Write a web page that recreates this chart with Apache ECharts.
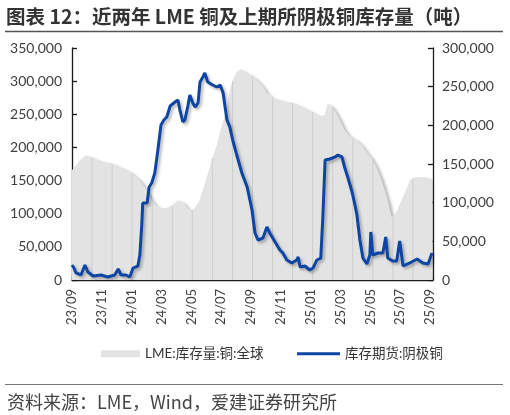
<!DOCTYPE html>
<html><head><meta charset="utf-8">
<script src="https://cdn.jsdelivr.net/npm/echarts@6/dist/echarts.min.js"></script>
<style>html,body{margin:0;padding:0;background:#fff}#c{width:510px;height:415px}</style>
</head><body><div id="c"></div>
<script>
const tickLabels = ['23/09','23/11','24/01','24/03','24/05','24/07','24/09','24/11','25/01','25/03','25/05','25/07','25/09'];
const leftTicks = [0, 350000, 50000];
const rightTicks = [0, 300000, 50000];
const lmeName = 'LME:库存量:铜:全球';
const shfeName = '库存期货:阴极铜';
const lmeDates = ['2023-09-01','2023-09-17','2023-09-29','2023-10-11','2023-10-30','2023-11-19','2023-12-09','2023-12-30','2024-01-18','2024-01-30','2024-02-11','2024-02-19','2024-02-27','2024-03-10','2024-03-24','2024-04-04','2024-04-14','2024-04-22','2024-05-02','2024-05-10','2024-05-18','2024-05-26','2024-06-02','2024-06-08','2024-06-14','2024-06-22','2024-06-28','2024-07-06','2024-07-13','2024-07-19','2024-07-25','2024-08-02','2024-08-11','2024-08-19','2024-08-30','2024-09-09','2024-09-19','2024-09-27','2024-10-03','2024-10-15','2024-11-05','2024-11-26','2024-12-16','2025-01-05','2025-01-20','2025-01-30','2025-02-05','2025-02-13','2025-02-20','2025-02-28','2025-03-10','2025-03-20','2025-04-04','2025-04-14','2025-04-24','2025-05-04','2025-05-14','2025-05-23','2025-05-31','2025-06-06','2025-06-14','2025-06-20','2025-06-26','2025-07-06','2025-07-15','2025-07-21','2025-07-31','2025-08-11','2025-08-21','2025-08-31','2025-09-06'];
const lmeValues = [165600,180700,188200,185200,179200,176100,170100,162500,150400,138300,120200,112600,108100,108100,112600,120200,117200,109600,103600,111100,120200,138300,155000,170100,185200,203400,221500,241200,259300,286500,301600,313700,318300,313700,309200,304700,297100,289500,282000,274400,269900,266900,260800,253300,247200,248700,266900,262300,253300,241200,226000,217000,210900,203400,192800,183700,170100,153500,135300,120200,94500,97500,106600,124700,138300,150400,155000,155000,155000,153500,150400];
const shfeDates = ['2023-09-01','2023-09-05','2023-09-09','2023-09-19','2023-09-27','2023-10-03','2023-10-14','2023-10-30','2023-11-13','2023-11-27','2023-12-04','2023-12-10','2023-12-20','2023-12-28','2024-01-04','2024-01-14','2024-01-18','2024-01-22','2024-01-24','2024-02-02','2024-02-06','2024-02-11','2024-02-17','2024-02-23','2024-02-29','2024-03-06','2024-03-12','2024-03-19','2024-03-29','2024-04-04','2024-04-08','2024-04-14','2024-04-18','2024-04-24','2024-04-28','2024-05-04','2024-05-09','2024-05-15','2024-05-19','2024-05-25','2024-05-29','2024-06-04','2024-06-14','2024-06-22','2024-06-29','2024-07-05','2024-07-13','2024-07-19','2024-07-25','2024-08-03','2024-08-13','2024-08-24','2024-09-03','2024-09-09','2024-09-15','2024-09-25','2024-10-03','2024-10-09','2024-10-20','2024-10-30','2024-11-05','2024-11-13','2024-11-23','2024-12-03','2024-12-06','2024-12-10','2024-12-20','2024-12-30','2025-01-06','2025-01-14','2025-01-22','2025-01-26','2025-01-31','2025-02-09','2025-02-19','2025-02-24','2025-03-04','2025-03-10','2025-03-16','2025-03-25','2025-03-31','2025-04-04','2025-04-10','2025-04-16','2025-04-24','2025-04-30','2025-05-02','2025-05-06','2025-05-17','2025-05-27','2025-06-02','2025-06-06','2025-06-16','2025-06-24','2025-06-30','2025-07-07','2025-07-21','2025-08-05','2025-08-17','2025-08-28','2025-09-05'];
const shfeValues = [19400,15500,9100,6500,19400,10300,5200,6500,3900,6500,14200,6500,6500,3900,15500,18100,32300,71100,99600,99600,120300,125400,138400,168100,200400,206900,210800,225000,230200,232800,219800,204300,206900,225000,239200,228900,223700,228900,256000,262500,267700,256000,252200,249600,252200,241800,206900,197800,181000,160300,138400,120300,90500,60800,51700,54300,68500,60800,49100,38800,34900,25900,22000,25900,29700,16800,18100,12900,15500,25900,28400,77600,155200,156500,159100,161600,159100,144800,133200,113800,97000,84100,51700,28400,20700,32300,62100,32300,34900,34900,55600,28400,24600,24600,50400,18100,22000,27200,22000,20700,34900];

const DIM = [31,28,31,30,31,30,31,31,30,31,30,31];
function monthOffset(s) {
  const [y, m, d] = s.split('-').map(Number);
  let dim = DIM[m - 1];
  if (m === 2 && y % 4 === 0) dim = 29;
  return (y - 2023) * 12 + (m - 9) + (d - 1) / dim;
}
const lmeData = lmeDates.map((d, i) => [monthOffset(d), lmeValues[i]]);
const shfeData = shfeDates.map((d, i) => [monthOffset(d), shfeValues[i]]);
const X_MAX = 24.2;
function lmeAt(x) {
  for (let i = 1; i < lmeData.length; i++) {
    if (lmeData[i][0] >= x) {
      const a = lmeData[i-1], b = lmeData[i];
      return a[1] + (b[1]-a[1]) * (x-a[0])/(b[0]-a[0]);
    }
  }
  return lmeData[lmeData.length-1][1];
}
const bandLines = [];
for (let k = 1; k < 18; k++) bandLines.push([k * X_MAX / 18, 0]);

const NUM_FONT = "Lato, 'Noto Sans CJK SC', sans-serif";
const CJK_FONT = "'Noto Sans CJK SC', sans-serif";
const fmt = v => v.toLocaleString('en-US');
const axisCommon = {
  axisLine: { show: true, lineStyle: { color: '#1a1a1a', width: 1.3 } },
  axisTick: { show: true, inside: true, length: 5, lineStyle: { color: '#1a1a1a', width: 1.3 } },
  splitLine: { show: false },
};
const chart = echarts.init(document.getElementById('c'), null, { renderer: 'canvas' });
chart.setOption({
  animation: false,
  backgroundColor: '#fff',
  title: [
    { text: '图表 12：近两年 LME 铜及上期所阴极铜库存量（吨）', left: 1, top: 2,
      textStyle: { fontFamily: CJK_FONT, fontSize: 19.5, fontWeight: 'bold', color: '#333' } },
    { text: '资料来源：LME，Wind，爱建证券研究所', left: 2, top: 388,
      textStyle: { fontFamily: CJK_FONT, fontSize: 18, fontWeight: 'normal', color: '#444' } }
  ],
  graphic: [
    { type: 'line', shape: { x1: 5, y1: 31.5, x2: 503, y2: 31.5 }, style: { stroke: '#555', lineWidth: 1.5 } },
    { type: 'line', shape: { x1: 5, y1: 384.5, x2: 503, y2: 384.5 }, style: { stroke: '#777', lineWidth: 1 } }
  ],
  legend: [
    { data: [{ name: lmeName, icon: 'rect', itemStyle: { color: '#e3e3e3' } }], left: 96, top: 342,
      itemWidth: 39, itemHeight: 7, itemGap: 5,
      textStyle: { fontFamily: NUM_FONT, fontSize: 13.5, color: '#333' } },
    { data: [{ name: shfeName, icon: 'rect', itemStyle: { color: '#0d45a5' } }], left: 292, top: 342,
      itemWidth: 43, itemHeight: 3,
      textStyle: { fontFamily: NUM_FONT, fontSize: 13.5, color: '#333' } }
  ],
  grid: { left: 72, right: 77, top: 48, bottom: 135 },
  xAxis: Object.assign({}, axisCommon, {
    type: 'value', min: 0, max: X_MAX, interval: 2,
    axisLabel: { rotate: 90, margin: 9, fontFamily: NUM_FONT, fontSize: 13, color: '#404040',
      showMaxLabel: false,
      formatter: v => { const r = Math.round(v); return (Math.abs(v - r) < 1e-6 && r % 2 === 0) ? (tickLabels[r/2] || '') : ''; } }
  }),
  yAxis: [
    Object.assign({}, axisCommon, {
      type: 'value', min: leftTicks[0], max: leftTicks[1], interval: leftTicks[2], position: 'left',
      axisLabel: { margin: 10, fontFamily: NUM_FONT, fontSize: 14, color: '#404040', formatter: fmt }
    }),
    Object.assign({}, axisCommon, {
      type: 'value', min: rightTicks[0], max: rightTicks[1], interval: rightTicks[2], position: 'right',
      axisLabel: { margin: 9, fontFamily: NUM_FONT, fontSize: 14, color: '#404040', formatter: fmt }
    })
  ],
  series: [
    { name: lmeName, type: 'line', yAxisIndex: 0, data: lmeData, showSymbol: false, symbol: 'none',
      lineStyle: { width: 0 }, itemStyle: { color: '#e3e3e3' },
      areaStyle: { color: '#e3e3e3', opacity: 1, shadowColor: 'rgba(0,0,0,0.28)', shadowBlur: 3, shadowOffsetX: 3, shadowOffsetY: 2 },
      z: 1 },
    { type: 'custom', yAxisIndex: 0, data: bandLines, z: 2, silent: true,
      renderItem: (params, api) => {
        const x = api.value(0);
        const p0 = api.coord([x, 0]);
        const p1 = api.coord([x, lmeAt(x)]);
        return { type: 'line', shape: { x1: p0[0], y1: p0[1], x2: p1[0], y2: p1[1] },
          style: { stroke: '#cdcdcd', lineWidth: 1 } };
      } },
    { name: shfeName, type: 'line', yAxisIndex: 1, data: shfeData, showSymbol: false, symbol: 'none',
      itemStyle: { color: '#0d45a5' },
      lineStyle: { color: '#0d45a5', width: 3, shadowColor: 'rgba(0,0,0,0.3)', shadowBlur: 3, shadowOffsetX: 2, shadowOffsetY: 2 },
      z: 3 }
  ]
});
</script></body></html>
